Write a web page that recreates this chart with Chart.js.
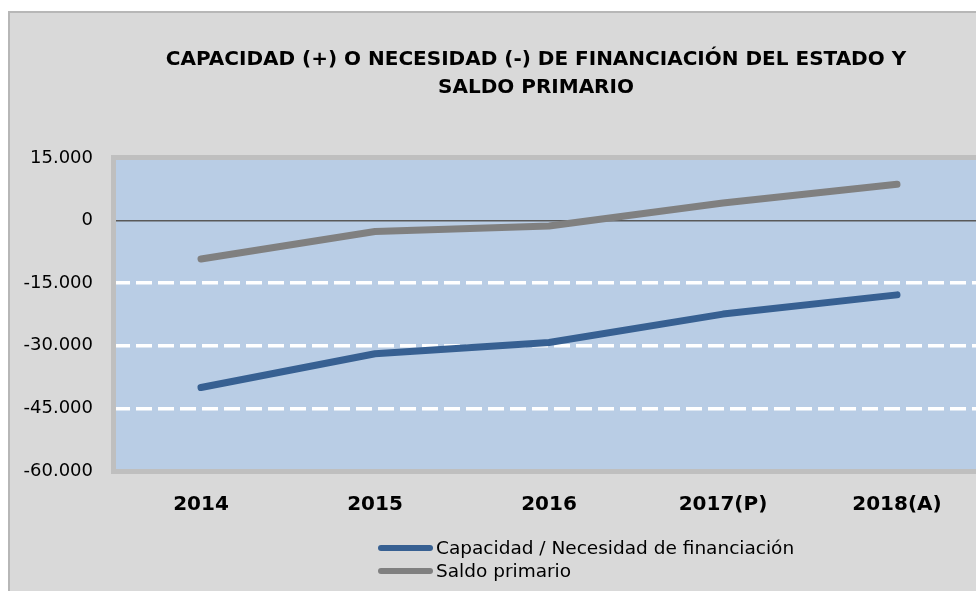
<!DOCTYPE html>
<html>
<head>
<meta charset="utf-8">
<title>Capacidad o necesidad de financiación del Estado</title>
<script src="https://cdn.jsdelivr.net/npm/chart.js@4.4.1/dist/chart.umd.min.js"></script>
<style>
  html, body { margin: 0; padding: 0; overflow: hidden; background: #ffffff; }
  #wrap { position: relative; width: 1000px; height: 591px; }
</style>
</head>
<body>
<div id="wrap"><canvas id="balanceChart" width="1000" height="591"></canvas></div>
<script>
// categories and series (millones de euros)
var years = ['2014', '2015', '2016', '2017(P)', '2018(A)'];
var capacidad = [-40000, -31900, -29200, -22400, -17800];
var saldoPrimario = [-9200, -2600, -1300, 4200, 8700];
var seriesNames = ['Capacidad / Necesidad de financiación', 'Saldo primario'];
var titleLines = ['CAPACIDAD (+) O NECESIDAD (-) DE FINANCIACIÓN DEL ESTADO Y', 'SALDO PRIMARIO'];

var FONT = '"DejaVu Sans", Verdana, sans-serif';

function fmtMiles(v) {
  var s = String(Math.abs(v)).replace(/\B(?=(\d{3})+(?!\d))/g, '.');
  return (v < 0 ? '-' : '') + s;
}

// background, outer frame, plot fill, title and legend
var frame = {
  id: 'frame',
  beforeDraw: function (chart) {
    var ctx = chart.ctx, a = chart.chartArea;
    ctx.save();
    ctx.fillStyle = '#ffffff';
    ctx.fillRect(0, 0, chart.width, chart.height);
    ctx.fillStyle = '#d9d9d9';
    ctx.fillRect(8, 11, chart.width, chart.height);
    ctx.strokeStyle = '#b7b7b7';
    ctx.lineWidth = 2;
    ctx.strokeRect(9, 12, chart.width + 10, chart.height + 10);
    ctx.fillStyle = '#b9cde5';
    ctx.fillRect(a.left, a.top, a.right - a.left, a.bottom - a.top);
    ctx.restore();
  },
  beforeDatasetsDraw: function (chart) {
    var ctx = chart.ctx, a = chart.chartArea;
    ctx.save();
    ctx.strokeStyle = '#bfbfbf';
    ctx.lineWidth = 5;
    ctx.strokeRect(a.left - 0.5, a.top - 0.5, a.right - a.left + 1, a.bottom - a.top + 1);
    ctx.restore();
  },
  afterDraw: function (chart) {
    var ctx = chart.ctx;
    ctx.save();
    // title
    ctx.fillStyle = '#000000';
    ctx.font = 'bold 20px ' + FONT;
    ctx.textAlign = 'center';
    ctx.textBaseline = 'middle';
    ctx.fillText(titleLines[0], 536, 60);
    ctx.fillText(titleLines[1], 536, 88);
    // legend
    ctx.font = '18.5px ' + FONT;
    ctx.textAlign = 'left';
    chart.data.datasets.forEach(function (ds, i) {
      var y = 548 + i * 23;
      ctx.strokeStyle = ds.borderColor;
      ctx.lineWidth = 6;
      ctx.lineCap = 'round';
      ctx.beginPath();
      ctx.moveTo(381, y);
      ctx.lineTo(430, y);
      ctx.stroke();
      ctx.fillStyle = '#000000';
      ctx.fillText(ds.label, 436, y + 1);
    });
    ctx.restore();
  }
};

new Chart(document.getElementById('balanceChart'), {
  type: 'line',
  data: {
    labels: years,
    datasets: [
      {
        label: seriesNames[0],
        data: capacidad,
        borderColor: '#376092',
        borderWidth: 7,
        borderCapStyle: 'round',
        borderJoinStyle: 'round',
        pointRadius: 0,
        tension: 0
      },
      {
        label: seriesNames[1],
        data: saldoPrimario,
        borderColor: '#808080',
        borderWidth: 7,
        borderCapStyle: 'round',
        borderJoinStyle: 'round',
        pointRadius: 0,
        tension: 0
      }
    ]
  },
  options: {
    responsive: false,
    animation: false,
    layout: { padding: { top: 158, right: 16, bottom: 0, left: 0 } },
    plugins: {
      legend: { display: false },
      title: { display: false },
      tooltip: { enabled: false }
    },
    scales: {
      x: {
        offset: true,
        grid: { display: false, drawTicks: false },
        border: { display: false },
        ticks: {
          color: '#000000',
          padding: 22,
          font: { family: FONT, size: 20, weight: 'bold' }
        },
        afterFit: function (s) { s.height = 120; }
      },
      y: {
        min: -60000,
        max: 15000,
        grid: {
          drawTicks: false,
          color: function (c) {
            var v = c.tick && c.tick.value;
            if (v === 0) return '#595959';
            if (v === 15000 || v === -60000) return 'rgba(255,255,255,0.45)';
            return '#ffffff';
          },
          lineWidth: function (c) {
            var v = c.tick && c.tick.value;
            if (v === 0) return 1.5;
            if (v === 15000 || v === -60000) return 1;
            return 3.5;
          }
        },
        border: {
          display: false,
          dash: function (c) {
            var v = c.tick && c.tick.value;
            return v === 0 ? [] : [16, 6];
          }
        },
        ticks: {
          stepSize: 15000,
          color: '#000000',
          padding: 21,
          font: { family: FONT, size: 18 },
          callback: function (v) { return fmtMiles(v); }
        },
        afterFit: function (s) { s.width = 114; }
      }
    }
  },
  plugins: [frame]
});
</script>
</body>
</html>
